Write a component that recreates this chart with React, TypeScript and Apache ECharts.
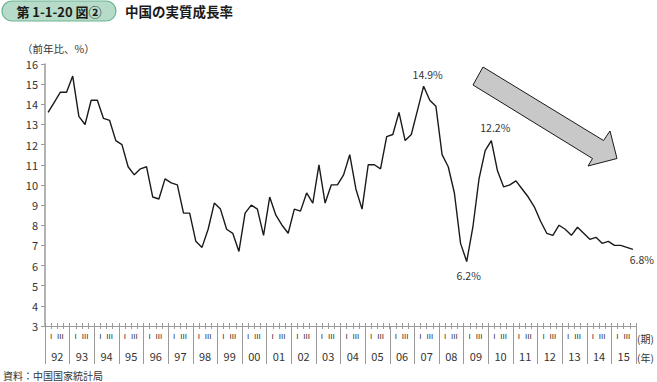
import React, { useEffect, useRef } from "react";
import * as echarts from "echarts";

const years = ["92","93","94","95","96","97","98","99","00","01","02","03","04","05","06","07","08","09","10","11","12","13","14","15"];
const quarterMarks = ["I", "", "III", ""];
const growth = [
  13.6, 14.1, 14.6, 14.6,
  15.4, 13.4, 13.0, 14.2,
  14.2, 13.3, 13.2, 12.2,
  12.0, 10.9, 10.5, 10.8,
  10.9, 9.4, 9.3, 10.3,
  10.1, 10.0, 8.6, 8.6,
  7.2, 6.9, 7.8, 9.1,
  8.8, 7.8, 7.6, 6.7,
  8.6, 9.0, 8.8, 7.5,
  9.4, 8.5, 8.0, 7.6,
  8.8, 8.7, 9.6, 9.1,
  11.0, 9.1, 10.0, 10.0,
  10.5, 11.5, 9.8, 8.8,
  11.0, 11.0, 10.8, 12.4,
  12.5, 13.6, 12.2, 12.5,
  13.7, 14.9, 14.2, 13.9,
  11.5, 10.9, 9.6, 7.1,
  6.2, 7.9, 10.3, 11.7,
  12.2, 10.7, 9.9, 10.0,
  10.2, 9.8, 9.4, 8.9,
  8.2, 7.6, 7.5, 8.0,
  7.8, 7.5, 7.9, 7.6,
  7.3, 7.4, 7.1, 7.2,
  7.0, 7.0, 6.9, 6.8,
];
const yTicks = { min: 3, max: 16, step: 1 };
const annotatedQuarters = ["07-Q2", "09-Q1", "10-Q1", "15-Q4"];

const FONT = "'Noto Sans CJK JP', 'Noto Sans', sans-serif";
const NUM_FONT = "'Liberation Sans', Arial, sans-serif";
const AXIS_GRAY = "#9a9a9a";
const TEXT = "#333";

export default function App() {
  const ref = useRef<HTMLDivElement>(null);
  useEffect(() => {
    if (!ref.current) return;
    const chart = echarts.init(ref.current, null, { renderer: "svg" });
    const quarters: string[] = [];
    years.forEach((y) => {
      for (let q = 1; q <= 4; q++) quarters.push(`${y}-Q${q}`);
    });
    const labelPlacement: Record<string, any> = {
      "07-Q2": { position: "top", distance: 6, offset: [4, 0] },
      "09-Q1": { position: "bottom", distance: 8, offset: [2, 0] },
      "10-Q1": { position: "top", distance: 7, offset: [4, 0] },
      "15-Q4": { position: "bottom", distance: 4, offset: [9, 0] },
    };
    const markData = annotatedQuarters.map((key) => {
      const i = quarters.indexOf(key);
      return {
        coord: [key, growth[i]],
        value: growth[i],
        label: {
          show: true,
          ...labelPlacement[key],
          formatter: (p: any) => `${Number(p.value).toFixed(1)}%`,
          fontFamily: FONT,
          fontSize: 10.5,
          color: TEXT,
        },
      };
    });

    const option: any = {
      animation: false,
      textStyle: { fontFamily: FONT },
      grid: { left: 45, right: 21, top: 64, bottom: 56 },
      xAxis: [
        {
          type: "category",
          data: quarters,
          position: "bottom",
          boundaryGap: true,
          axisLine: { show: true, lineStyle: { color: AXIS_GRAY, width: 1.2 } },
          axisTick: { show: true, interval: 0, length: 3, lineStyle: { color: AXIS_GRAY, width: 1 } },
          axisLabel: {
            show: true,
            interval: 0,
            margin: 6,
            fontSize: 8,
            color: TEXT,
            fontFamily: NUM_FONT,
            formatter: (_v: string, idx: number) => {
              const m = quarterMarks[idx % 4];
              if (!m) return "";
              return idx % 4 === 0 ? `{a|${m}}` : `{b|${m}}`;
            },
            rich: {
              a: { fontSize: 8, color: TEXT, fontFamily: NUM_FONT, padding: [0, 0, 0, 6] },
              b: { fontSize: 8, color: TEXT, fontFamily: NUM_FONT },
            },
          },
          splitLine: { show: false },
        },
        {
          type: "category",
          data: quarters,
          position: "bottom",
          boundaryGap: true,
          axisLine: { show: false },
          axisTick: { show: true, inside: true, interval: 0, length: 3, lineStyle: { color: AXIS_GRAY, width: 1 } },
          axisLabel: { show: false },
          splitLine: { show: false },
        },
        {
          type: "category",
          data: years,
          position: "bottom",
          boundaryGap: true,
          axisLine: { show: false },
          axisTick: { show: true, interval: 0, length: 38, lineStyle: { color: AXIS_GRAY, width: 1 } },
          axisLabel: { show: true, interval: 0, margin: 24, fontSize: 11, color: TEXT, fontFamily: FONT },
          splitLine: { show: false },
        },
      ],
      yAxis: {
        type: "value",
        min: yTicks.min,
        max: yTicks.max,
        interval: yTicks.step,
        axisLine: { show: true, lineStyle: { color: AXIS_GRAY, width: 1.5 } },
        axisTick: { show: true, length: 4, lineStyle: { color: AXIS_GRAY, width: 1 } },
        axisLabel: { margin: 7, fontSize: 11, color: TEXT, fontFamily: FONT },
        splitLine: { show: false },
      },
      series: [
        {
          type: "line",
          xAxisIndex: 0,
          data: growth,
          symbol: "none",
          lineStyle: { color: "#1a1a1a", width: 1.4 },
          z: 5,
          markPoint: {
            symbol: "circle",
            symbolSize: 1,
            itemStyle: { color: "transparent" },
            silent: true,
            data: markData,
          },
        },
      ],
      graphic: [
        {
          type: "rect",
          shape: { x: 2, y: 1, width: 114, height: 20, r: 10 },
          style: { fill: "#b6dcc9", stroke: "#6cb394", lineWidth: 1.2 },
        },
        {
          type: "text",
          x: 59,
          y: 11,
          style: {
            text: "第 1-1-20 図②",
            font: `bold 13px ${FONT}`,
            fill: "#1a1a1a",
            align: "center",
            verticalAlign: "middle",
          },
        },
        {
          type: "text",
          x: 125,
          y: 11,
          style: {
            text: "中国の実質成長率",
            font: `bold 13.5px ${FONT}`,
            fill: "#1a1a1a",
            align: "left",
            verticalAlign: "middle",
          },
        },
        {
          type: "text",
          x: 22,
          y: 48,
          style: {
            text: "（前年比、%）",
            font: `10.5px ${FONT}`,
            fill: TEXT,
            align: "left",
            verticalAlign: "middle",
          },
        },
        {
          type: "text",
          x: 637,
          y: 338,
          style: { text: "(期)", font: `10px ${FONT}`, fill: TEXT, align: "left", verticalAlign: "middle" },
        },
        {
          type: "text",
          x: 637,
          y: 357,
          style: { text: "(年)", font: `10px ${FONT}`, fill: TEXT, align: "left", verticalAlign: "middle" },
        },
        {
          type: "text",
          x: 3,
          y: 375,
          style: { text: "資料：中国国家統計局", font: `10px ${FONT}`, fill: TEXT, align: "left", verticalAlign: "middle" },
        },
        {
          type: "polygon",
          shape: {
            points: [
              [483, 67],
              [603.5, 140.5],
              [610, 131],
              [617, 158.5],
              [588, 166],
              [592.5, 158.5],
              [473, 85],
            ],
          },
          style: { fill: "#c8c8c8", stroke: "#1a1a1a", lineWidth: 1 },
        },
      ],
    };
    chart.setOption(option);
    return () => chart.dispose();
  }, []);
  return <div ref={ref} style={{ width: 657, height: 382, position: "absolute", left: 0, top: 0, background: "#fff" }} />;
}
